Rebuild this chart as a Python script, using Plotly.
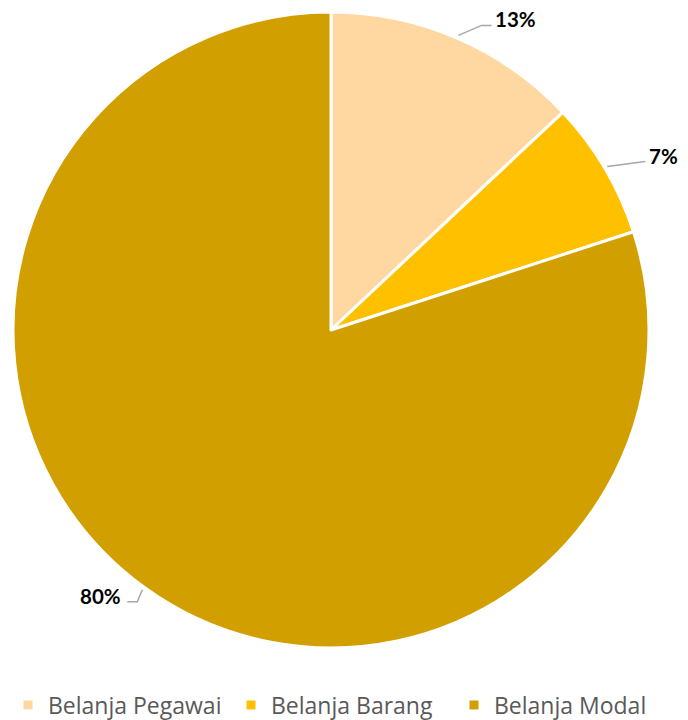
import math
import plotly.graph_objs as go

# komposisi belanja (persen)
labels = ['Belanja Pegawai', 'Belanja Barang', 'Belanja Modal']
values = [13, 7, 80]
colors = ['#FFD8A1', '#FFC000', '#D29F00']

W, H = 688, 720


def pie():
    # pusat dan jari-jari pie dalam piksel (halaman punya margin body 8px)
    cx, cy, r = 323, 322, 318
    trace = go.Pie(
        labels=labels,
        values=values,
        sort=False,
        direction='clockwise',
        rotation=0,
        marker=dict(colors=colors, line=dict(color='white', width=3)),
        textinfo='none',
        domain=dict(x=[(cx - r) / W, (cx + r) / W], y=[1 - (cy + r) / H, 1 - (cy - r) / H]),
        hoverinfo='label+percent',
        showlegend=True,
    )

    # garis penunjuk: (dx, dy) ke siku, panjang garis datar
    leaders = [(23, -10, 10), (38, -5, 0), (-5, 12, -10)]
    total = sum(values)
    start = 0
    annotations = []
    shapes = []
    for v, (dx, dy, hl) in zip(values, leaders):
        mid = (start + v / 2) / total * 2 * math.pi
        start += v
        x0 = cx + (r + 3) * math.sin(mid)
        y0 = cy - (r + 3) * math.cos(mid)
        x1, y1 = x0 + dx, y0 + dy
        x2 = x1 + hl
        shapes.append(dict(
            type='path', xref='paper', yref='paper',
            path='M %f,%f L %f,%f L %f,%f' % (x0 / W, 1 - y0 / H, x1 / W, 1 - y1 / H, x2 / W, 1 - y1 / H),
            line=dict(color='#A6A6A6', width=1.5),
        ))
        right = dx > 0
        annotations.append(dict(
            x=x2 / W, y=1 - y1 / H, xref='paper', yref='paper',
            text='<b>%d%%</b>' % round(v / total * 100),
            showarrow=False,
            xanchor='left' if right else 'right', yanchor='middle',
            xshift=2 if right else -4, yshift=6,
            font=dict(family='Lato', size=20.5, color='black'),
        ))

    layout = go.Layout(
        width=W,
        height=H,
        margin=dict(l=0, r=0, t=0, b=0, autoexpand=False),
        paper_bgcolor='white',
        plot_bgcolor='white',
        annotations=annotations,
        shapes=shapes,
        legend=dict(
            orientation='h',
            x=0, xanchor='left',
            y=1 - 697 / H, yanchor='middle',
            font=dict(family='Open Sans', size=23, color='#595959'),
            itemwidth=30,
            entrywidth=178, entrywidthmode='pixels',
            traceorder='normal',
        ),
    )

    fig = go.Figure(data=[trace], layout=layout)
    fig.write_html('out.html')


if __name__ == '__main__':
    pie()
